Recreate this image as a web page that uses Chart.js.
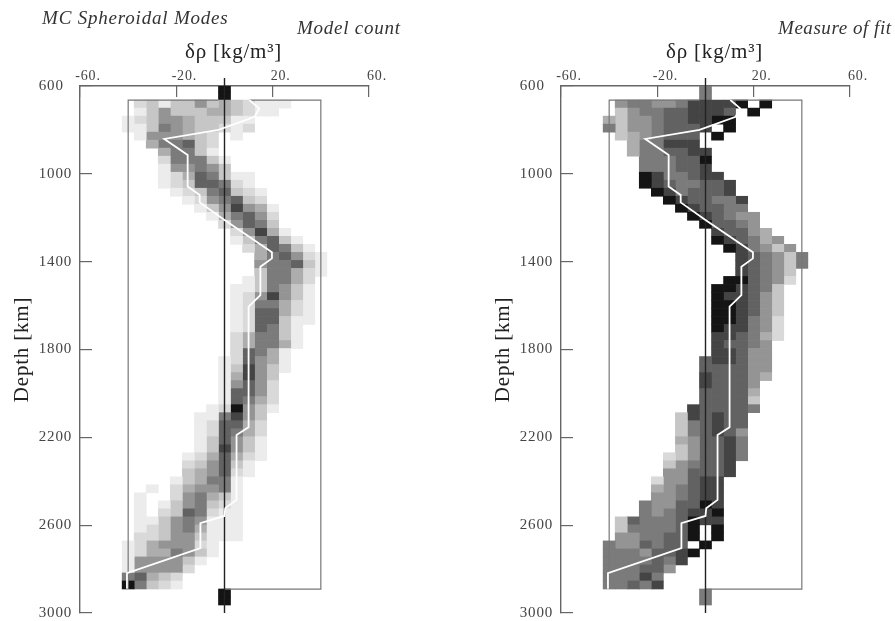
<!DOCTYPE html>
<html>
<head>
<meta charset="utf-8">
<script src="https://cdn.jsdelivr.net/npm/chart.js@4"></script>
<style>
  html, body { margin: 0; padding: 0; background: #fff; }
  body { width: 895px; height: 621px; position: relative; overflow: hidden; }
  canvas { position: absolute; top: 0; filter: blur(0.55px); }
  .note { position: absolute; font: italic 19px "Liberation Serif", serif; color: #333; white-space: nowrap; filter: blur(0.3px); }
</style>
</head>
<body>
<canvas id="countChart" width="440" height="621" style="left:0"></canvas>
<canvas id="fitChart" width="414" height="621" style="left:481px"></canvas>
<div class="note" style="left:42px;top:7px;letter-spacing:.8px">MC Spheroidal Modes</div>
<div class="note" style="left:297px;top:17px;letter-spacing:.75px">Model count</div>
<div class="note" style="left:778px;top:17px;letter-spacing:.55px">Measure of fit</div>
<script>
// density anomaly bins, one column per value
const binCentres = [-40, -35, -30, -25, -20, -15, -10, -5, 0, 5, 10, 15, 20, 25, 30, 35, 40];

// depth of each row of cells (km)
const rowDepths = [
  609.4, 645.9, 682.4, 718.9, 755.4, 791.9, 828.4, 864.9, 901.4, 937.9, 974.4, 1010.9, 1047.4,
  1083.9, 1120.4, 1156.9, 1193.4, 1229.9, 1266.4, 1302.9, 1339.4, 1375.9, 1412.4, 1448.9, 1485.4,
  1521.9, 1558.4, 1594.9, 1631.4, 1667.9, 1704.4, 1740.9, 1777.4, 1813.9, 1850.4, 1886.9, 1923.4,
  1959.9, 1996.4, 2032.9, 2069.4, 2105.9, 2142.4, 2178.9, 2215.4, 2251.9, 2288.4, 2324.9, 2361.4,
  2397.9, 2434.4, 2470.9, 2507.4, 2543.9, 2580.4, 2616.9, 2653.4, 2689.9, 2726.4, 2762.9, 2799.4,
  2835.9, 2872.4, 2908.9, 2945.4
];

// shade level per cell, 1 light .. 9 black, '.' is empty
const modelCount = [
  "........9........", "........9........",
  ".2313353432111...", ".135333443211....", "12355433311......", "11365433212......",
  ".1555432.1.......", "..466732.........", "...46631.........", "...266631........",
  "...155653........", "...12476311......", "...12377621......", "....12367321.....",
  ".....1256732.....", "......1358541....", ".......146752....", "........25763....",
  ".........25841...", ".........136731..", "..........247631.", "...........467521",
  "...........566731", "...........366421", "..........136642.", ".........1136531.",
  ".........1258531.", ".........1266421.", ".........1277421.", ".........1277311.",
  ".........127631..", ".........246631..", ".........246641..", ".........27641...",
  "........127541...", "........138531...", "........14853....", "........15752....",
  "........17752....", "........17642....", ".......129531....", "......116853.....",
  "......127742.....", "......127642.....", "......137531.....", "......138531.....",
  ".....1247421.....", ".....235731......", ".....345721......", "....134661.......",
  "..1.245561.......", ".1..256431.......", ".1.1356321.......", ".1.2376211.......",
  ".113565111.......", ".123564111.......", ".223553111.......", "12455521.........",
  "12446531.........", "1555531..........", "155552...........", "67432............",
  "96321............",
  "........9........", "........9........"
];

const fitMeasure = [
  "........6........", "........6........",
  ".56655688889.9...", ".3566778887.9....", "43556778899......", "635567778.9......",
  ".3456777.9.......", "..466888.........", "..4667788........", "...666779........",
  "...666778........", "...9866788.......", "...98766778......", "....9867778......",
  ".....9877668.....", "......987766.....", ".......987655....", "........97765....",
  ".........87754...", ".........987645..", "..........986535.", "...........876536",
  "...........876536", "...........87653.", "..........997652.", ".........998763..",
  ".........988753..", ".........998753..", ".........998753..", ".........998652..",
  ".........988652..", ".........887642..", ".........87765...", ".........88755...",
  "........788755...", "........777755...", "........877754...", "........87775....",
  "........77774....", "........77773....", ".......877776....", "......387877.....",
  "......367877.....", "......367875.....", "......457786.....", "......357786.....",
  ".....2357786.....", ".....356778......", ".....557778......", "....255788.......",
  "....456788.......", "....556788.......", "...6557798.......", "...6567889.......",
  ".376667988.......", ".3666679.9.......", ".5566779.9.......", "6557677.9........",
  "66657789.........", "6666768..........", "666775...........", "66686............",
  "66768............",
  "........6........", "........6........"
];

const shades = ['#ffffff', '#ececec', '#d9d9d9', '#c6c6c6', '#adadad', '#949494', '#7b7b7b', '#626262', '#444444', '#141414'];

// best fitting profile, drawn white
const profileDensity = [10.3, 14.4, 12.5, -2.5, -25, -15.3, -15.3, -10.3, -10.3, 0, 19.7, 19.7, 14.9, 14.9, 10, 10, 5, 5, 0.3, 0, -10, -10, -40.5, -40.5];
const profileDepth = [664, 702, 740, 800, 841, 914, 1058, 1096, 1130, 1210, 1357, 1385, 1423, 1552, 1605, 2154, 2189, 2485, 2523, 2558, 2591, 2705, 2819, 2890];

// bounds of the search box
const boxLeft = -40, boxRight = 40, boxTop = 664, boxBottom = 2891;

function zip(xs, ys) {
  return xs.map((x, i) => ({ x: x, y: ys[i] }));
}

// the scanned labels are set wider than any installed serif
const wideText = {
  id: 'wideText',
  beforeDraw(chart) { chart.ctx.letterSpacing = '0.8px'; }
};

function makePanel(id, rows, rightPad) {
  const cellSets = binCentres.map((bin, col) => {
    const cells = [];
    rows.forEach((row, r) => {
      if (row[col] !== '.') cells.push({ x: [bin - 2.5, bin + 2.5], y: rowDepths[r], level: +row[col] });
    });
    return {
      data: cells,
      backgroundColor: ctx => shades[ctx.raw ? ctx.raw.level : 0],
      borderWidth: 0,
      barPercentage: 1,
      categoryPercentage: 1,
      grouped: false,
      order: 5
    };
  });

  const lines = [
    // search box, broken where the cells cover it
    { type: 'scatter', showLine: true, indexAxis: 'x', pointRadius: 0, borderColor: '#777', borderWidth: 1.2, order: 3, clip: false,
      data: [{ x: 0, y: boxBottom }, { x: boxRight, y: boxBottom }, { x: boxRight, y: boxTop }, { x: 10.3, y: boxTop }, { x: null, y: null }, { x: -2.5, y: boxTop }, { x: boxLeft, y: boxTop }, { x: boxLeft, y: boxBottom }] },
    // zero line, pokes out above the axis
    { type: 'scatter', showLine: true, indexAxis: 'x', pointRadius: 0, borderColor: '#222', borderWidth: 1.4, order: 2, clip: false,
      data: [{ x: 0, y: 564 }, { x: 0, y: 3000 }] },
    { type: 'scatter', showLine: true, indexAxis: 'x', pointRadius: 0, borderColor: '#ffffff', borderWidth: 1.8, order: 1, clip: false,
      data: zip(profileDensity, profileDepth) }
  ];

  new Chart(document.getElementById(id), {
    type: 'bar',
    data: { datasets: cellSets.concat(lines) },
    plugins: [wideText],
    options: {
      indexAxis: 'y',
      responsive: false,
      animation: false,
      layout: { padding: { left: 0, right: rightPad, top: 0, bottom: 8 } },
      plugins: { legend: { display: false }, tooltip: { enabled: false }, title: { display: false } },
      scales: {
        x: {
          type: 'linear',
          position: 'top',
          min: -60,
          max: 60,
          afterFit: s => { s.height = 86; },
          border: { color: '#666', width: 1.4 },
          grid: { drawOnChartArea: false, color: '#666', lineWidth: 1.2, tickLength: -11 },
          // leading spaces push the title right of the axis centre, as in the original
          title: { display: true, text: '\u00a0\u00a0\u00a0δρ [kg/m³]', font: { family: 'Liberation Serif', size: 21 }, color: '#222', padding: { top: 40, bottom: 0 } },
          ticks: {
            stepSize: 40,
            color: '#444',
            font: { family: 'Liberation Serif', size: 14 },
            labelOffset: 8,
            padding: 12,
            maxRotation: 0,
            callback: v => v + '.'
          }
        },
        y: {
          type: 'linear',
          reverse: true,
          offset: false,
          min: 600,
          max: 3000,
          afterFit: s => { s.width = 80; s.paddingBottom = 0; },
          border: { color: '#666', width: 1.4 },
          grid: { drawOnChartArea: false, offset: false, color: '#666', lineWidth: 1.2, tickLength: -12 },
          title: { display: true, text: 'Depth [km]', font: { family: 'Liberation Serif', size: 21 }, color: '#222', padding: { top: 10, bottom: 0 } },
          ticks: {
            stepSize: 400,
            color: '#444',
            font: { family: 'Liberation Serif', size: 15 },
            padding: 20,
            // 600 lines up with the left edge of the four digit labels
            callback: v => String(v).padEnd(4, '\u2007')
          }
        }
      }
    }
  });
}

makePanel('countChart', modelCount, 71);
makePanel('fitChart', fitMeasure, 45);
</script>
</body>
</html>
